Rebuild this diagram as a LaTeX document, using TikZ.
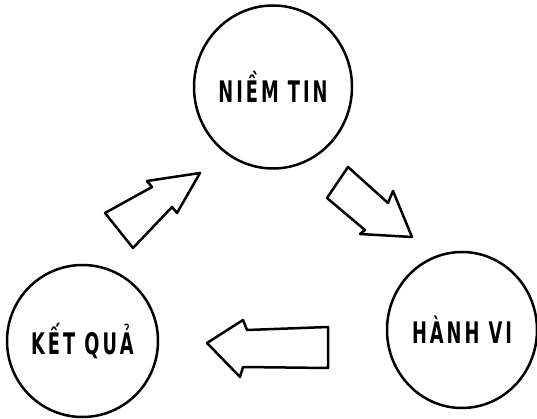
\documentclass[tikz,border=0pt]{standalone}
\usepackage{fontspec}
\setmainfont{DejaVu Sans Condensed}
\newfontfamily\stagefont[LetterSpace=15]{DejaVu Sans Condensed}
\usetikzlibrary{shapes.geometric}
\newcommand{\stagelabel}[1]{\scalebox{0.9}[1.35]{\stagefont\bfseries #1}}
\tikzset{
  bubble/.style={draw=black, line width=2.5pt, ellipse, inner sep=0pt,
    font=\fontsize{22}{24}\selectfont},
  blockarrow/.style={draw=black, line width=2.5pt, line join=round, fill=white}
}
\begin{document}
\begin{tikzpicture}[x=1pt, y=-1pt]
\useasboundingbox (0,0) rectangle (537,419);
% the three stages of the cycle
\node[bubble, minimum width=158pt, minimum height=163pt] (belief) at (273,87) {\stagelabel{NIỀM TIN}};
\node[bubble, minimum width=150pt, minimum height=156pt] (behaviour) at (462,330) {\stagelabel{HÀNH VI}};
\node[bubble, minimum width=151pt, minimum height=152pt] (result) at (82.5,341) {\stagelabel{KẾT QUẢ}};
% block arrows between the stages
\draw[blockarrow] (348,167) -- (327,198) -- (365,230) -- (360,234) -- (412,237)
  -- (393,191) -- (388,203) -- cycle;
\draw[blockarrow] (328,327) -- (247,330) -- (243,320) -- (207,343) -- (240,377)
  -- (243,367) -- (328,368) -- cycle;
\draw[blockarrow] (105,213) -- (152,187) -- (147,181) -- (200,173) -- (177,213)
  -- (172,207) -- (133,248) -- cycle;
\end{tikzpicture}
\end{document}
